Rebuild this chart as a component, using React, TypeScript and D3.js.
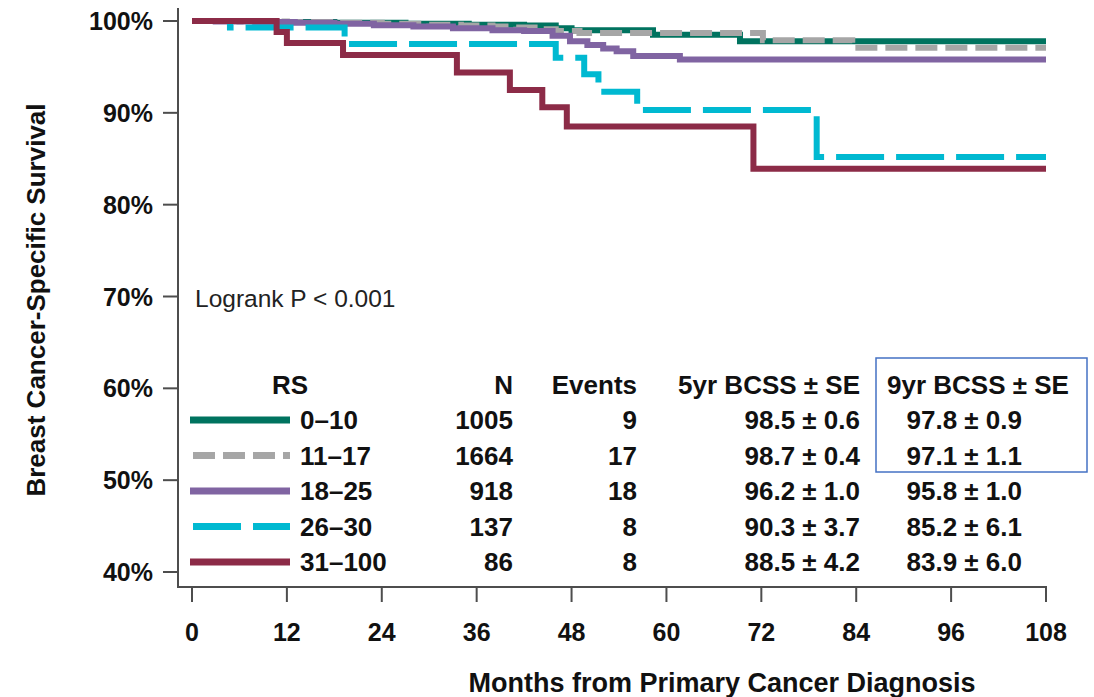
import React from 'react';
import * as d3 from 'd3';

const W = 1094;
const H = 697;

// Risk-score groups and summary statistics
const groupLabels = ['0–10', '11–17', '18–25', '26–30', '31–100'];
const groupN = ['1005', '1664', '918', '137', '86'];
const groupEvents = ['9', '17', '18', '8', '8'];
const bcss5yr = ['98.5 ± 0.6', '98.7 ± 0.4', '96.2 ± 1.0', '90.3 ± 3.7', '88.5 ± 4.2'];
const bcss9yr = ['97.8 ± 0.9', '97.1 ± 1.1', '95.8 ± 1.0', '85.2 ± 6.1', '83.9 ± 6.0'];

// Kaplan–Meier step points (months, survival %)
const months0to10 = [0, 9, 18, 27, 35, 42, 46, 48, 58.3, 69.3, 108];
const surv0to10 = [100, 99.9, 99.8, 99.7, 99.6, 99.5, 99.2, 99.0, 98.5, 97.8, 97.8];

const months11to17 = [0, 6, 12, 18, 24, 30, 34, 38, 41, 44, 46, 49, 72.2, 83.5, 108];
const surv11to17 = [100, 99.95, 99.9, 99.8, 99.7, 99.6, 99.5, 99.4, 99.3, 99.1, 98.9, 98.7, 97.9, 97.1, 97.1];

const months18to25 = [0, 3, 8, 13, 18, 23, 28, 33, 38, 42, 45.6, 47.8, 50, 52, 53.7, 55.8, 61.7, 108];
const surv18to25 = [100, 99.95, 99.9, 99.8, 99.7, 99.55, 99.4, 99.2, 99.0, 98.9, 98.4, 97.8, 97.4, 97.0, 96.7, 96.2, 95.8, 95.8];

const months26to30 = [0, 4.8, 19.3, 46, 49.6, 51.4, 56.3, 79, 108];
const surv26to30 = [100, 99.3, 97.5, 96.0, 94.2, 92.3, 90.3, 85.2, 85.2];

const months31to100 = [0, 10.7, 12, 19.1, 33.5, 40.2, 44.3, 47.4, 71, 108];
const surv31to100 = [100, 98.8, 97.6, 96.3, 94.4, 92.5, 90.6, 88.5, 83.9, 83.9];

const seriesMonths = [months0to10, months11to17, months18to25, months26to30, months31to100];
const seriesSurv = [surv0to10, surv11to17, surv18to25, surv26to30, surv31to100];

const colors = ['#00735F', '#A6A6A6', '#8064A2', '#00B9D1', '#8C2B47'];
const dashArrays = [undefined, '22 8', undefined, '48 12', undefined];

const xTicks = [0, 12, 24, 36, 48, 60, 72, 84, 96, 108];
const yTicks = [40, 50, 60, 70, 80, 90, 100];

const FONT = '"Liberation Sans", Arial, Helvetica, sans-serif';

export default function App() {
  const x = d3.scaleLinear().domain([0, 108]).range([192, 1046]);
  const y = d3.scaleLinear().domain([40, 100]).range([572, 21]);

  const line = d3
    .line<[number, number]>()
    .x((d) => x(d[0]))
    .y((d) => y(d[1]))
    .curve(d3.curveStepAfter);

  const axisLeftX = 178;
  const axisBottomY = 587;
  const axisColor = '#4d4d4d';

  const rowY = (i: number) => 420 + i * 35.5;
  const headerY = 394;

  return (
    <svg
      width={W}
      height={H}
      style={{ position: 'absolute', left: 0, top: 0, background: '#fff' }}
      fontFamily={FONT}
    >
      <rect x={0} y={0} width={W} height={H} fill="#fff" />

      {/* axes */}
      <line x1={axisLeftX} x2={axisLeftX} y1={8} y2={axisBottomY} stroke={axisColor} strokeWidth={2} />
      <line x1={axisLeftX - 1} x2={x(108) + 1} y1={axisBottomY} y2={axisBottomY} stroke={axisColor} strokeWidth={2} />

      {yTicks.map((t) => (
        <g key={'y' + t}>
          <line x1={163} x2={axisLeftX} y1={y(t)} y2={y(t)} stroke={axisColor} strokeWidth={2} />
          <text x={153} y={y(t) + 9} textAnchor="end" fontSize={25} fontWeight="bold" fill="#111">
            {t}%
          </text>
        </g>
      ))}

      {xTicks.map((t) => (
        <g key={'x' + t}>
          <line x1={x(t)} x2={x(t)} y1={axisBottomY} y2={602} stroke={axisColor} strokeWidth={2} />
          <text x={x(t)} y={641} textAnchor="middle" fontSize={25} fontWeight="bold" fill="#111">
            {t}
          </text>
        </g>
      ))}

      <text x={722} y={692} textAnchor="middle" fontSize={27} fontWeight="bold" fill="#111">
        Months from Primary Cancer Diagnosis
      </text>
      <text
        transform="translate(45,300) rotate(-90)"
        textAnchor="middle"
        fontSize={26}
        fontWeight="bold"
        fill="#111"
      >
        Breast Cancer-Specific Survival
      </text>

      {/* survival curves */}
      {seriesMonths.map((ms, i) => {
        const pts = ms.map((m, k) => [m, seriesSurv[i][k]] as [number, number]);
        return (
          <path
            key={'s' + i}
            d={line(pts) || ''}
            fill="none"
            stroke={colors[i]}
            strokeWidth={6}
            strokeDasharray={dashArrays[i]}
          />
        );
      })}

      <text x={195} y={307} fontSize={24.5} fill="#222">
        Logrank P &lt; 0.001
      </text>

      {/* legend table */}
      <g fontSize={26} fontWeight="bold" fill="#111">
        <text x={290} y={headerY} textAnchor="middle">RS</text>
        <text x={513} y={headerY} textAnchor="end">N</text>
        <text x={637} y={headerY} textAnchor="end">Events</text>
        <text x={860} y={headerY} textAnchor="end">5yr BCSS ± SE</text>
        <text x={887} y={headerY} textAnchor="start">9yr BCSS ± SE</text>
        {groupLabels.map((lab, i) => (
          <g key={'r' + i}>
            <line
              x1={dashArrays[i] ? 193 : 190}
              x2={290}
              y1={rowY(i)}
              y2={rowY(i)}
              stroke={colors[i]}
              strokeWidth={7}
              strokeDasharray={dashArrays[i]}
            />
            <text x={300} y={rowY(i) + 9}>{lab}</text>
            <text x={513} y={rowY(i) + 9} textAnchor="end">{groupN[i]}</text>
            <text x={637} y={rowY(i) + 9} textAnchor="end">{groupEvents[i]}</text>
            <text x={860} y={rowY(i) + 9} textAnchor="end">{bcss5yr[i]}</text>
            <text x={1022} y={rowY(i) + 9} textAnchor="end">{bcss9yr[i]}</text>
          </g>
        ))}
      </g>
      <rect x={876} y={358} width={211} height={114} fill="none" stroke="#4472C4" strokeWidth={1.5} />
    </svg>
  );
}
